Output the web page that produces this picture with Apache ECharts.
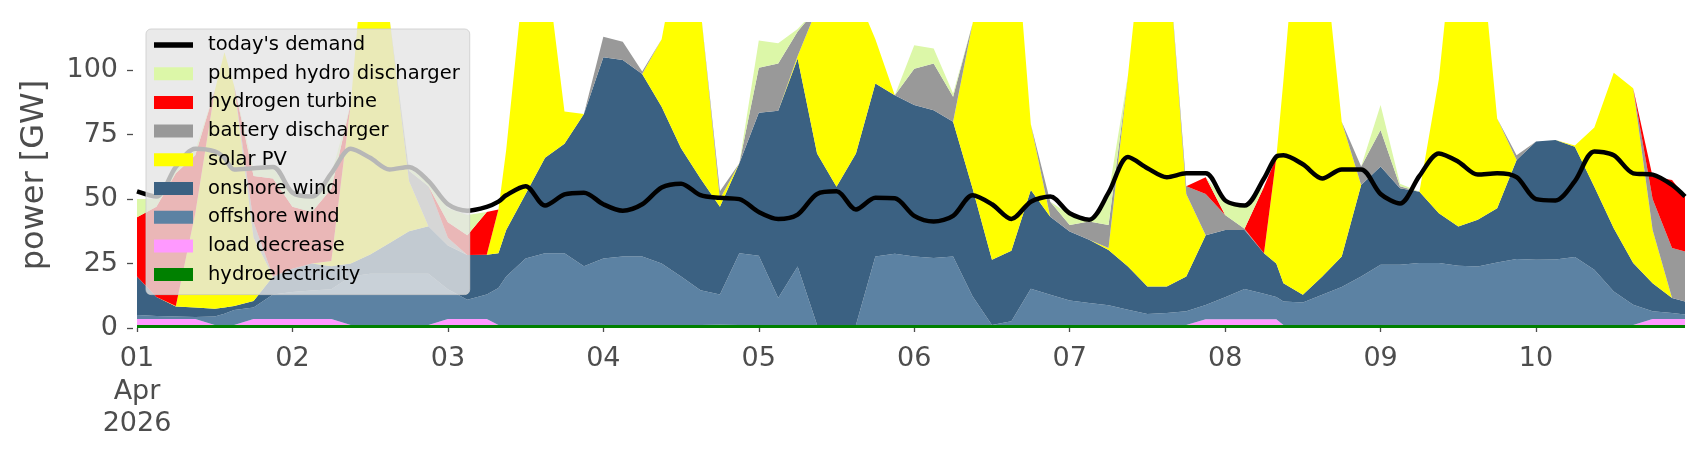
<!DOCTYPE html>
<html>
<head>
<meta charset="utf-8">
<script src="https://cdn.jsdelivr.net/npm/echarts@6/dist/echarts.min.js"></script>
<style>
  html, body { margin: 0; padding: 0; background: #fff; }
  #chart { width: 1706px; height: 460px; }
</style>
</head>
<body>
<div id="chart"></div>
<script>
// hours since 01 Apr 2026 00:00 (mostly 3-hourly, a few extra points at steep edges)
const hours = [0, 3, 6, 9, 12, 13.5, 15, 18, 21, 24, 27, 30, 33, 36, 39, 42, 45, 48, 51, 54, 55.8,
  57, 60, 63, 66, 69, 72, 75, 78, 81, 84, 87, 90, 93, 96, 99, 102, 105, 108, 111, 114,
  117, 120, 123, 126, 129, 132, 135, 138, 141, 144, 147, 150, 153, 156, 159, 162, 165, 168, 171, 174,
  175.9, 177, 180, 183, 186, 189, 192, 195, 198, 201, 204, 207, 210, 213, 216, 219, 222, 225, 228, 231,
  234, 237, 239];

const hydro = [1.2, 1.2, 1.2, 1.2, 1.2, 1.2, 1.2, 1.2, 1.2, 1.2, 1.2, 1.2, 1.2, 1.2, 1.2, 1.2, 1.2, 1.2, 1.2, 1.2, 1.2,
  1.2, 1.2, 1.2, 1.2, 1.2, 1.2, 1.2, 1.2, 1.2, 1.2, 1.2, 1.3, 1.2, 1.2, 1.2, 1.2, 1.2, 1.2, 1.2, 1.2,
  1.2, 1.2, 1.2, 1.2, 1.2, 1.2, 1.2, 1.2, 1.2, 1.2, 1.2, 1.2, 1.2, 1.2, 1.2, 1.2, 1.2, 1.2, 1.2, 1.2,
  1.2, 1.2, 1.2, 1.2, 1.2, 1.2, 1.2, 1.2, 1.2, 1.2, 1.2, 1.2, 1.2, 1.2, 1.2, 1.2, 1.2, 1.2, 1.2, 1.2,
  1.2, 1.2, 1.2];
const loadDecrease = [2.3, 2.3, 2.3, 2.3, 0, 0, 0, 2.3, 2.3, 2.3, 2.3, 2.3, 0, 0, 0, 0, 0, 2.3, 2.3, 2.3, 0,
  0, 0, 0, 0, 0, 0, 0, 0, 0, 0, 0, 0, 0, 0, 0, 0, 0, 0, 0, 0,
  0, 0, 0, 0, 0, 0, 0, 0, 0, 0, 0, 0, 0, 0, 0, 0, 2.2, 2.2, 2.2, 2.2,
  2.2, 0, 0, 0, 0, 0, 0, 0, 0, 0, 0, 0, 0, 0, 0, 0, 0, 0, 0, 0,
  2.3, 2.3, 2.3];
const offshoreWind = [1.5, 1.2, 1.0, 0.8, 3.3, 4.3, 5.8, 4.5, 9.5, 10.5, 11, 11.5, 18.8, 19.8, 19.8, 19.8, 19.8, 11.5, 7.5, 9.5, 14.3,
  18.8, 25.8, 27.8, 27.8, 22.8, 25.8, 26.5, 26.5, 23.8, 18.8, 13.4, 11.7, 27.8, 26.8, 10.4, 22.7, 0, 0, 0, 26.5,
  27.6, 26.5, 26, 26.5, 11.1, 0, 1.4, 14, 11.7, 9.5, 8.5, 7.6, 5.9, 4.2, 4.6, 5.3, 5.5, 8.5, 11.7, 9.9,
  8.6, 9.1, 8.7, 11.7, 14.7, 18.8, 23.3, 23.3, 24, 24, 22.9, 22.7, 24.2, 25.6, 25.3, 25.4, 26.3, 21.4, 13, 7.8,
  3, 2.3, 1.7];
const onshoreWind = [15, 7.3, 3.8, 3.7, 3.0, 2.5, 1.5, 2.5, 7, 9, 10.5, 9, 5, 7.5, 12, 16.5, 18.5, 17, 17.3, 15.4, 13.5,
  18, 25, 37, 42.5, 59, 78, 76.3, 70.8, 60.8, 49.7, 43.4, 34, 34.9, 55.5, 72.7, 80.6, 66.5, 53.6, 66.5, 67.1,
  61.5, 58.8, 57.3, 52.3, 41.9, 25.3, 27.4, 38.3, 30.3, 26.7, 24.5, 21.5, 16.8, 10.7, 10.3, 13.5, 27.1, 26.1, 22.9, 15.7,
  13, 7.1, 3, 7.1, 11.8, 35.5, 38.1, 29.7, 27.7, 19.3, 15.3, 18.1, 21.1, 38.4, 45.8, 46.3, 42.8, 32.2, 24.5, 16.2,
  10.9, 5.8, 5.1];
const solarPV = [0, 0, 0.2, 36.5, 84.5, 99, 85.5, 24.5, 0, 0, 0, 2, 62, 146.5, 87, 19.5, 0, 0, 0, 0, 17,
  31, 91, 79, 12.5, 0, 0, 0, 0, 26.2, 82.3, 66, 3, 0, 0, 0, 1, 56.3, 110.2, 62.3, 17.2,
  0, 0, 0, 0, 63.8, 138.5, 145, 25.5, 0, 0, 0, 0.7, 74.1, 153.9, 135.9, 32, 0, 0, 0, 0,
  41, 78.6, 172.1, 133, 52.3, 0, 0, 0, 0, 52.1, 130.6, 119, 34.8, 0, 0, 0, 0.5, 23, 60.3, 67.8,
  20.6, 0, 0];
const batteryDischarger = [0, 0, 0, 0, 0, 0, 0, 6, 0, 0, 0, 0, 0, 0, 0, 4, 15.5, 3, 0, 0, 0,
  0, 0, 0, 0, 0, 8, 7, 1, 0, 0, 0, 3, 0, 17.5, 18.3, 9.5, 0, 0, 0, 0,
  0, 14.1, 18.1, 9.7, 0, 0, 0, 0, 5.8, 2.6, 7.1, 9, 0, 0, 0, 3, 16, 5.8, 0.5, 0,
  0, 0, 0, 0, 0, 7.1, 14.2, 0.8, 0, 0, 0, 0, 0, 1.8, 0, 0, 0, 0, 0, 0,
  12, 19.4, 19.4];
const hydrogenTurbine = [23, 35, 51.5, 22.5, 0, 0, 0, 18, 38, 24, 20, 28, 0, 0, 0, 0, 0, 6, 7.7, 16.6, 0,
  0, 0, 0, 0, 0, 0, 0, 0, 0, 0, 0, 0, 0, 0, 0, 0, 0, 0, 0, 0,
  0, 0, 0, 0, 0, 0, 0, 0, 0, 0, 0, 0, 0, 0, 0, 0, 6.5, 0, 0, 25.8,
  0, 0, 0, 0, 0, 0, 0, 0, 0, 0, 0, 0, 0, 0, 0, 0, 0, 0, 0, 0,
  8.7, 26.4, 21.3];
const pumpedHydro = [7, 3, 2, 2, 0, 0, 0, 3, 4, 5, 5.5, 5.5, 0, 0, 0, 1, 2, 5.5, 7.8, 0, 0,
  0, 0, 0, 0, 0, 0, 0, 0, 0, 0, 0, 0, 0, 10.5, 7.9, 1, 0, 0, 0, 0,
  0, 9.1, 5.8, 1.3, 0, 0, 0, 0, 0, 4, 0, 12, 0, 0, 0, 0, 0, 5.2, 9.2, 0,
  0, 0, 0, 0, 0, 0, 9.7, 1, 0, 0, 0, 0, 0, 0, 0, 0, 0, 0, 0, 0,
  0, 0, 0];
const demand = [53, 51, 62.5, 69.5, 68.5, 66, 61.5, 62, 62.5, 52.5, 51, 60, 69.5, 66, 61.5, 62.5, 57, 48, 45.5, 47, 49,
  51.5, 55, 47.5, 51.8, 52.5, 48, 45.5, 48, 54.5, 56, 51.5, 50.5, 50, 45, 42.3, 44, 52, 53, 46, 50.5,
  50.3, 43.5, 41.3, 43.5, 51.5, 48, 42.3, 49, 51, 44.5, 42, 52.5, 66.3, 62, 58.5, 60, 60, 49.5, 47.5, 58,
  66.5, 67, 63.5, 58, 61.5, 61.5, 52, 48.3, 59, 67.7, 64.5, 59.5, 60, 58.5, 50, 49.5, 57, 68.5, 67, 60,
  59.5, 55.5, 51];

const dayLabels = ['01\nApr\n2026', '02', '03', '04', '05', '06', '07', '08', '09', '10'];
const yTicks = [0, 25, 50, 75, 100];

const start = Date.UTC(2026, 3, 1);
const hourMs = 3600 * 1000;
const dayMs = 24 * hourMs;
const toTime = (h) => start + h * hourMs;

const font = 'DejaVu Sans';
const textGray = '#4d4d4d';

// stacked from the bottom up
const layers = [
  { name: 'hydroelectricity', values: hydro, color: '#008000' },
  { name: 'load decrease', values: loadDecrease, color: '#ff99ff' },
  { name: 'offshore wind', values: offshoreWind, color: '#5c82a3' },
  { name: 'onshore wind', values: onshoreWind, color: '#3b6182' },
  { name: 'solar PV', values: solarPV, color: '#ffff00' },
  { name: 'battery discharger', values: batteryDischarger, color: '#999999' },
  { name: 'hydrogen turbine', values: hydrogenTurbine, color: '#ff0000' },
  { name: 'pumped hydro discharger', values: pumpedHydro, color: '#dcf7a8' }
];

const toPairs = (vals) => hours.map((h, i) => [toTime(h), vals[i]]);

const chart = echarts.init(document.getElementById('chart'));

const series = layers.map((layer) => ({
  name: layer.name,
  type: 'line',
  stack: 'supply',
  data: toPairs(layer.values),
  symbol: 'none',
  lineStyle: { width: 0 },
  itemStyle: { color: layer.color },
  areaStyle: { color: layer.color, opacity: 1 },
  emphasis: { disabled: true },
  z: 2
}));

series.push({
  name: "today's demand",
  type: 'line',
  data: toPairs(demand),
  symbol: 'none',
  smooth: 0.3,
  lineStyle: { color: '#000', width: 4.5 },
  itemStyle: { color: '#000' },
  emphasis: { disabled: true },
  z: 3
});

chart.setOption({
  animation: false,
  useUTC: true,
  backgroundColor: '#fff',
  grid: { left: 137, right: 21, top: 22, bottom: 132 },
  legend: {
    orient: 'vertical',
    left: 146,
    top: 29,
    icon: 'rect',
    data: [
      { name: "today's demand", icon: 'path://M0,0H43V6H0Z' },
      ...layers.slice().reverse().map((l) => l.name)
    ],
    itemWidth: 39,
    itemHeight: 13,
    itemGap: 8.7,
    padding: [6, 10, 10, 8],
    backgroundColor: 'rgba(229,229,229,0.8)',
    borderColor: 'rgba(204,204,204,0.8)',
    borderWidth: 1,
    borderRadius: 5,
    selectedMode: false,
    textStyle: { fontFamily: font, fontSize: 19.5, color: '#000', lineHeight: 20, padding: [0, 0, 0, 10] }
  },
  xAxis: {
    type: 'time',
    min: toTime(0),
    max: toTime(239),
    minInterval: dayMs,
    maxInterval: dayMs,
    splitNumber: 10,
    offset: 2,
    axisLine: { show: false },
    axisTick: { show: true, length: 4, lineStyle: { color: textGray, width: 1.3 } },
    axisLabel: {
      formatter: (v) => {
        const t = typeof v === 'number' ? v : +v;
        const d = (t - start) / dayMs;
        return Number.isInteger(d) && dayLabels[d] !== undefined ? dayLabels[d] : '';
      },
      fontFamily: font,
      fontSize: 27,
      lineHeight: 32.5,
      color: textGray,
      margin: 13,
      hideOverlap: false
    },
    splitLine: { show: false }
  },
  yAxis: {
    type: 'value',
    min: 0,
    max: 118.7,
    offset: 4,
    name: 'power [GW]',
    nameLocation: 'middle',
    nameRotate: 90,
    nameGap: 82,
    nameTextStyle: { fontFamily: font, fontSize: 32, color: textGray },
    axisLine: { show: false },
    axisTick: { show: true, length: 6, customValues: yTicks, lineStyle: { color: textGray, width: 1.3 } },
    axisLabel: { customValues: yTicks, fontFamily: font, fontSize: 27, color: textGray, margin: 15 },
    splitLine: { show: false }
  },
  series: series
});
</script>
</body>
</html>
